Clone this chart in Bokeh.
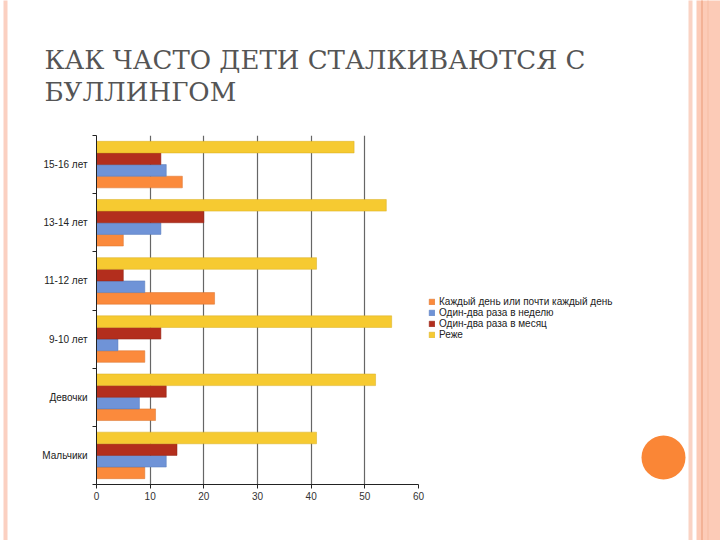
from bokeh.plotting import figure
from bokeh.models import (Range1d, FixedTicker, Legend, LegendItem, ColumnDataSource)
from bokeh.transform import dodge
from bokeh.embed import file_html
from bokeh.resources import INLINE

# ---- data (bottom to top, as drawn) ----
categories = ["Мальчики", "Девочки", "9-10 лет", "11-12 лет", "13-14 лет", "15-16 лет"]
daily = [9, 11, 9, 22, 5, 16]       # Каждый день или почти каждый день
weekly = [13, 8, 4, 9, 12, 13]      # Один-два раза в неделю
monthly = [15, 13, 12, 5, 20, 12]   # Один-два раза в месяц
rarely = [41, 52, 55, 41, 54, 48]   # Реже
series_names = ["Каждый день или почти каждый день", "Один-два раза в неделю",
                "Один-два раза в месяц", "Реже"]
x_ticks = [0, 10, 20, 30, 40, 50, 60]
title_lines = ["КАК ЧАСТО ДЕТИ СТАЛКИВАЮТСЯ С", "БУЛЛИНГОМ"]

colors = ["#FB8A3C", "#6F93D7", "#B32E1D", "#F6CA31"]
edge = ["#D8702A", "#5578B8", "#8E2214", "#D9AE20"]
offsets = [-0.3, -0.1, 0.1, 0.3]

centers = [i + 0.5 for i in range(len(categories))]
bounds = list(range(len(categories) + 1))

# frame geometry (pixels on the 720x540 page)
FL, FR, FT, FB = 96, 418, 135, 484
XMAX, YMAX = 60, len(categories)

def px_x(px):  # page pixel -> data x (for page decorations only)
    return (px - FL) * XMAX / (FR - FL)

def px_y(py):  # page pixel -> data y (for page decorations only)
    return (FB - py) * YMAX / (FB - FT)

src = ColumnDataSource(dict(y=centers, daily=daily, weekly=weekly,
                            monthly=monthly, rarely=rarely))

p = figure(frame_width=FR - FL, frame_height=FB - FT,
           output_backend="svg", toolbar_location=None,
           x_range=Range1d(0, XMAX), y_range=Range1d(0, YMAX),
           min_border_left=FL, min_border_right=720 - FR, min_border_top=FT,
           min_border_bottom=540 - FB)
p.background_fill_color = "white"
p.border_fill_color = "white"
p.outline_line_color = None

renderers = []
for key, c, e, off in zip(["daily", "weekly", "monthly", "rarely"], colors, edge, offsets):
    r = p.hbar(y=dodge("y", off), right=key, left=0, height=0.2, source=src,
               fill_color=c, line_color=e, line_width=0.5)
    renderers.append(r)

# axes
p.xaxis.ticker = FixedTicker(ticks=x_ticks)
p.xaxis.axis_line_color = "#222222"
p.xaxis.major_tick_line_color = "#222222"
p.xaxis.major_tick_out = 4
p.xaxis.major_tick_in = 0
p.xaxis.minor_tick_line_color = None
p.xaxis.major_label_text_font = "Liberation Sans"
p.xaxis.major_label_text_font_size = "10px"
p.xaxis.major_label_text_color = "#333333"
p.xaxis.major_label_standoff = 3

p.yaxis.ticker = FixedTicker(ticks=centers, minor_ticks=bounds)
p.yaxis.major_label_overrides = {c: n for c, n in zip(centers, categories)}
p.yaxis.axis_line_color = "#222222"
p.yaxis.major_tick_line_color = None
p.yaxis.minor_tick_line_color = "#222222"
p.yaxis.minor_tick_out = 4
p.yaxis.minor_tick_in = 0
p.yaxis.major_label_text_font = "Liberation Sans"
p.yaxis.major_label_text_font_size = "10px"
p.yaxis.major_label_text_color = "#222222"
p.yaxis.major_label_standoff = 3

p.ygrid.grid_line_color = None
p.xgrid.grid_line_color = "#666666"
p.xgrid.grid_line_width = 1.2

# legend
legend = Legend(items=[LegendItem(label=n, renderers=[r]) for n, r in zip(series_names, renderers)],
                location=(10, 144), border_line_color=None, background_fill_alpha=0,
                glyph_width=7, glyph_height=7, label_height=8, spacing=0,
                label_text_font="Liberation Sans", label_text_font_size="10px",
                label_text_color="#222222", label_standoff=4, padding=4, margin=0)
p.add_layout(legend, "right")

# two-line slide title, drawn on the overlay level (outside the frame)
title_src = ColumnDataSource(dict(x=[px_x(44)] * 2, y=[px_y(59), px_y(91.5)],
                                  text=title_lines,
                                  font=["DejaVu Serif"] * 2))
p.text(x="x", y="y", text="text", text_font="font", source=title_src,
       text_font_size="26px", text_color="#555555", text_baseline="middle",
       level="overlay")

# slide decorations drawn on the overlay level (outside the frame)
strip_l = [3, 688, 696, 700.5, 707]
strip_r = [7, 692, 720, 702.5, 708]
strip_c = ["#FBD0C1", "#FAD3C4", "#FCCBB7", "#F3B296", "#F6BDA4"]
p.quad(left=[px_x(v) for v in strip_l], right=[px_x(v) for v in strip_r],
       top=px_y(0), bottom=px_y(540), fill_color=strip_c, line_color=None, level="overlay")
p.ellipse(x=px_x(663), y=px_y(457), width=px_x(663 + 22) - px_x(663 - 22),
          height=px_y(457 - 22) - px_y(457 + 22), fill_color="#FA8636",
          line_color=None, level="overlay")

open("out.html", "w").write(file_html(p, INLINE))
